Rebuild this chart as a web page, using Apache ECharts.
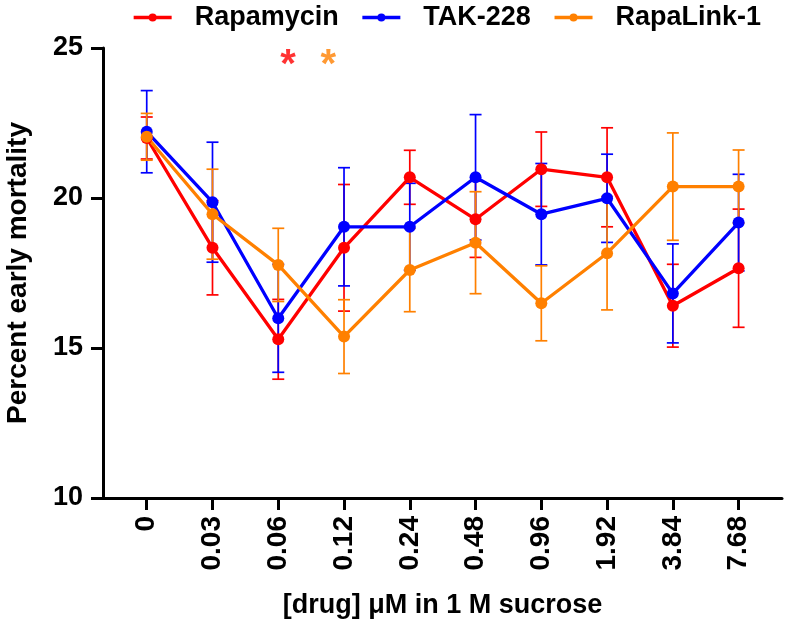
<!DOCTYPE html>
<html>
<head>
<meta charset="utf-8">
<script src="https://cdn.jsdelivr.net/npm/echarts@6/dist/echarts.min.js"></script>
<style>
  html, body { margin: 0; padding: 0; background: #fff; }
  #chart { width: 786px; height: 630px; }
</style>
</head>
<body>
<div id="chart"></div>
<script>
const doses = ['0', '0.03', '0.06', '0.12', '0.24', '0.48', '0.96', '1.92', '3.84', '7.68']

// mean and error (bar half-length) per dose
const rapamycin = [22.0, 18.34, 15.29, 18.34, 20.69, 19.29, 20.96, 20.69, 16.41, 17.66]
const rapamycinErr = [0.7, 1.57, 1.33, 2.11, 0.9, 1.27, 1.24, 1.65, 1.38, 1.97]
const tak228 = [22.21, 19.86, 15.99, 19.04, 19.04, 20.69, 19.46, 19.99, 16.82, 19.18]
const tak228Err = [1.37, 2.0, 1.8, 1.97, 1.45, 2.09, 1.69, 1.47, 1.65, 1.61]
const rapalink = [22.04, 19.46, 17.77, 15.38, 17.6, 18.51, 16.49, 18.16, 20.38, 20.38]
const rapalinkErr = [0.78, 1.5, 1.22, 1.23, 1.39, 1.7, 1.25, 1.89, 1.79, 1.22]

// significance marks (x in dose-index units, y in percent)
const sigMarks = [
    { x: 2.15, y: 24.66, color: '#ff0000' },
    { x: 2.76, y: 24.66, color: '#ff8000' },
]

const FONT = '"Liberation Sans", Arial, Helvetica, sans-serif'

function pairs(vals) {
    return vals.map(function (v, i) { return [i, v] })
}

function errData(vals, errs) {
    return vals.map(function (v, i) { return [i, v, errs[i]] })
}

function errorBars(name, vals, errs, color) {
    return {
        name: name + ' err',
        type: 'custom',
        data: errData(vals, errs),
        encode: { x: 0, y: 1 },
        renderItem: function (params, api) {
            var x = api.value(0), m = api.value(1), e = api.value(2)
            var top = api.coord([x, m + e])
            var bot = api.coord([x, m - e])
            var w = 6
            var style = { stroke: color, lineWidth: 1.7 }
            return {
                type: 'group',
                children: [
                    { type: 'line', shape: { x1: top[0], y1: top[1], x2: bot[0], y2: bot[1] }, style: style },
                    { type: 'line', shape: { x1: top[0] - w, y1: top[1], x2: top[0] + w, y2: top[1] }, style: style },
                    { type: 'line', shape: { x1: bot[0] - w, y1: bot[1], x2: bot[0] + w, y2: bot[1] }, style: style },
                ]
            }
        }
    }
}

function lineSeries(name, vals, color) {
    return {
        name: name,
        type: 'line',
        data: pairs(vals),
        symbol: 'circle',
        symbolSize: 12,
        showSymbol: true,
        lineStyle: { width: 3.3, color: color },
        itemStyle: { color: color },
    }
}

var chart = echarts.init(document.getElementById('chart'))

var option = {
    animation: false,
    textStyle: { fontFamily: FONT },
    legend: {
        data: ['Rapamycin', 'TAK-228', 'RapaLink-1'],
        left: 127,
        top: -1,
        itemWidth: 38,
        itemHeight: 10,
        itemGap: 22,
        lineStyle: { width: 3.3 },
        textStyle: {
            fontFamily: FONT,
            fontSize: 27,
            fontWeight: 'bold',
            color: '#000',
            padding: [0, 0, 0, 18],
        },
    },
    grid: {
        left: 103,
        right: 4,
        top: 48,
        bottom: 132,
        outerBoundsMode: 'none',
    },
    xAxis: {
        type: 'value',
        min: -0.665,
        max: 9.66,
        name: '[drug] μM in 1 M sucrose',
        nameLocation: 'middle',
        nameGap: 94,
        nameTextStyle: { fontFamily: FONT, fontSize: 27, fontWeight: 'bold', color: '#000' },
        axisLine: { onZero: false, lineStyle: { color: '#000', width: 3 } },
        axisTick: {
            customValues: doses.map(function (d, i) { return i }),
            length: 12,
            lineStyle: { color: '#000', width: 3 },
        },
        axisLabel: {
            customValues: doses.map(function (d, i) { return i }),
            formatter: function (v) { return doses[Math.round(v)] },
            rotate: 90,
            margin: 18,
            fontFamily: FONT,
            fontSize: 28,
            fontWeight: 'bold',
            color: '#000',
        },
        splitLine: { show: false },
    },
    yAxis: {
        type: 'value',
        min: 10,
        max: 25,
        interval: 5,
        name: 'Percent early mortality',
        nameLocation: 'middle',
        nameRotate: 90,
        nameGap: 71,
        nameTextStyle: { fontFamily: FONT, fontSize: 28, fontWeight: 'bold', color: '#000' },
        axisLine: { show: true, onZero: false, lineStyle: { color: '#000', width: 3 } },
        axisTick: { show: true, length: 12, lineStyle: { color: '#000', width: 3 } },
        axisLabel: {
            margin: 20,
            fontFamily: FONT,
            fontSize: 27,
            fontWeight: 'bold',
            color: '#000',
        },
        splitLine: { show: false },
    },
    series: [
        errorBars('Rapamycin', rapamycin, rapamycinErr, '#ff0000'),
        lineSeries('Rapamycin', rapamycin, '#ff0000'),
        errorBars('TAK-228', tak228, tak228Err, '#0000ff'),
        lineSeries('TAK-228', tak228, '#0000ff'),
        errorBars('RapaLink-1', rapalink, rapalinkErr, '#ff8000'),
        lineSeries('RapaLink-1', rapalink, '#ff8000'),
        {
            name: 'sig',
            type: 'scatter',
            symbol: 'circle',
            symbolSize: 1,
            itemStyle: { color: 'rgba(0,0,0,0)' },
            data: sigMarks.map(function (s) {
                return {
                    value: [s.x, s.y],
                    label: {
                        show: true,
                        formatter: '*',
                        position: 'inside',
                        offset: [0, 8],
                        fontFamily: FONT,
                        fontSize: 40,
                        fontWeight: 'bold',
                        color: s.color,
                    },
                }
            }),
        },
    ],
}

option && chart.setOption(option)
</script>
</body>
</html>
